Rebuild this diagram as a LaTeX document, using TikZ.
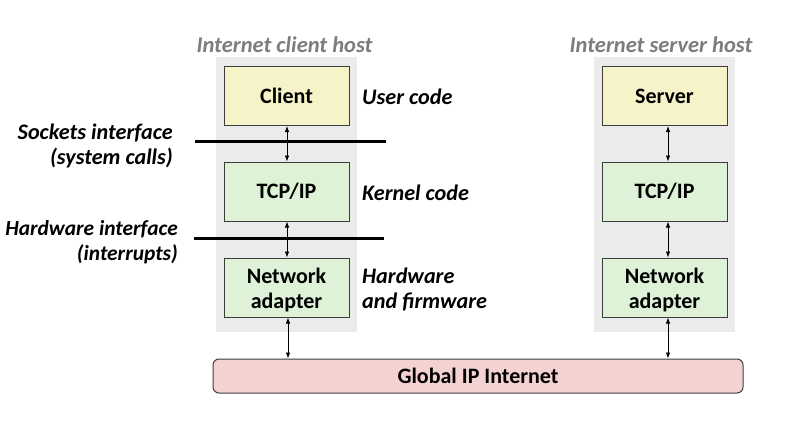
\documentclass[tikz,border=0pt]{standalone}
\usepackage{fontspec}
\setmainfont{Carlito}
\usetikzlibrary{arrows.meta}
\definecolor{ylw}{RGB}{247,243,200}
\definecolor{grn}{RGB}{221,242,215}
\definecolor{pnk}{RGB}{244,210,210}
\definecolor{bgg}{RGB}{235,235,235}
\definecolor{lblg}{RGB}{125,125,125}
\definecolor{brd}{RGB}{60,60,60}
\begin{document}
\begin{tikzpicture}[x=1pt,y=-1pt,
  box/.style={draw=brd,line width=1pt,minimum width=125pt,minimum height=59pt,inner sep=0pt,align=center,font=\fontsize{22}{25}\selectfont\bfseries},
  ubox/.style={box,fill=ylw},
  kbox/.style={box,fill=grn},
  hostbg/.style={fill=bgg,draw=none},
  hostlbl/.style={text=lblg,font=\fontsize{22.5}{25}\selectfont\bfseries\itshape,inner sep=0pt},
  sidelbl/.style={font=\fontsize{22.2}{25}\selectfont\bfseries\itshape,inner sep=0pt},
  boxtxt/.style={font=\fontsize{22}{25}\selectfont\bfseries,align=center,inner sep=0pt},
  link/.style={line width=0.8pt,{Latex[length=6pt,width=4.5pt]}-{Latex[length=6pt,width=4.5pt]}},
  bar/.style={line width=3pt}
]
\useasboundingbox (0,0) rectangle (791,423);
% host backgrounds
\fill[hostbg] (216,57) rectangle (357,332);
\fill[hostbg] (594,57) rectangle (735,332);
% host labels
\node[hostlbl] (clh) at (284.5,45) {Internet client host};
\node[hostlbl] (svh) at (661,45) {Internet server host};
% client stack
\node[ubox] (client) at (286.5,96) {Client};
\node[kbox] (ctcp) at (286.5,191.5) {TCP/IP};
\node[kbox,label={[boxtxt,yshift=-3pt]center:Network\\adapter}] (cnet) at (286.5,287.5) {};
% server stack
\node[ubox] (server) at (664.5,96) {Server};
\node[kbox] (stcp) at (664.5,191.5) {TCP/IP};
\node[kbox,label={[boxtxt,yshift=-3pt]center:Network\\adapter}] (snet) at (664.5,287.5) {};
% internet
\node[draw=brd,line width=1pt,fill=pnk,rounded corners=6pt,minimum width=530pt,minimum height=34pt,inner sep=0pt,font=\fontsize{22}{26}\selectfont\bfseries] (inet) at (478,376) {Global IP Internet};
% interface bars
\coordinate (s1) at (195,141);
\coordinate (s2) at (386,141);
\coordinate (h1) at (194,238);
\coordinate (h2) at (384,238);
\draw[bar] (s1) -- (s2);
\draw[bar] (h1) -- (h2);
% side labels
\node[sidelbl,anchor=west] (uc) at (362,97) {User code};
\node[sidelbl,anchor=west] (kc) at (362,193) {Kernel code};
\node[sidelbl,anchor=west,align=left] (hf) at (362,290) {Hardware\\and firmware};
\node[sidelbl,anchor=east,align=right] (si) at (173,146) {Sockets interface\\(system calls)};
\node[sidelbl,anchor=east,align=right,font=\fontsize{21.4}{25}\selectfont\bfseries\itshape] (hi) at (178,242.5) {Hardware interface\\(interrupts)};
% arrows
\coordinate (ca) at ([xshift=1.5pt]cnet.south);
\coordinate (sa) at ([xshift=3.5pt]snet.south);
\draw[link] ([xshift=0.5pt]client.south) -- ([xshift=0.5pt]ctcp.north);
\draw[link] ([xshift=0.5pt]ctcp.south) -- ([xshift=0.5pt]cnet.north);
\draw[link] (ca) -- (inet.north -| ca);
\draw[link] ([xshift=3.5pt]server.south) -- ([xshift=3.5pt]stcp.north);
\draw[link] ([xshift=3.5pt]stcp.south) -- ([xshift=3.5pt]snet.north);
\draw[link] (sa) -- (inet.north -| sa);
\end{tikzpicture}
\end{document}
